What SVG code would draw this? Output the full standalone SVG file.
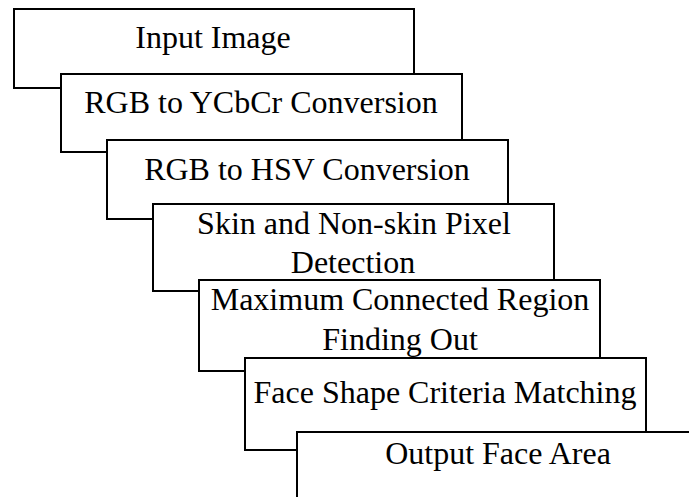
<svg xmlns="http://www.w3.org/2000/svg" width="689" height="497" viewBox="0 0 689 497">
  <style>
    .box { fill: #fff; stroke: #000; stroke-width: 2; }
    .lbl { font-family: "Liberation Serif", "Times New Roman", serif; font-size: 32px; fill: #000; text-anchor: middle; }
  </style>
  <rect x="0" y="0" width="689" height="497" fill="#fff"/>
  <!-- Cascading process steps; each later step overlaps the previous one -->
  <g id="step-input-image">
    <rect class="box" x="14" y="9" width="400" height="79"/>
    <text class="lbl" x="213" y="48">Input Image</text>
  </g>
  <g id="step-rgb-ycbcr">
    <rect class="box" x="61" y="74" width="401" height="78"/>
    <text class="lbl" x="261" y="113">RGB to YCbCr Conversion</text>
  </g>
  <g id="step-rgb-hsv">
    <rect class="box" x="107" y="140" width="401" height="79"/>
    <text class="lbl" x="307" y="180">RGB to HSV Conversion</text>
  </g>
  <g id="step-skin-detection">
    <rect class="box" x="153" y="204" width="401" height="87"/>
    <text class="lbl" x="354" y="234">Skin and Non-skin Pixel</text>
    <text class="lbl" x="353" y="273">Detection</text>
  </g>
  <g id="step-max-region">
    <rect class="box" x="199" y="280" width="401" height="91"/>
    <text class="lbl" x="400" y="310">Maximum Connected Region</text>
    <text class="lbl" x="400" y="350">Finding Out</text>
  </g>
  <g id="step-face-shape">
    <rect class="box" x="245" y="358" width="401" height="92"/>
    <text class="lbl" x="445" y="403">Face Shape Criteria Matching</text>
  </g>
  <g id="step-output">
    <rect class="box" x="297" y="432" width="401" height="90"/>
    <text class="lbl" x="498" y="464">Output Face Area</text>
  </g>
  <g id="connectors"/>
</svg>
